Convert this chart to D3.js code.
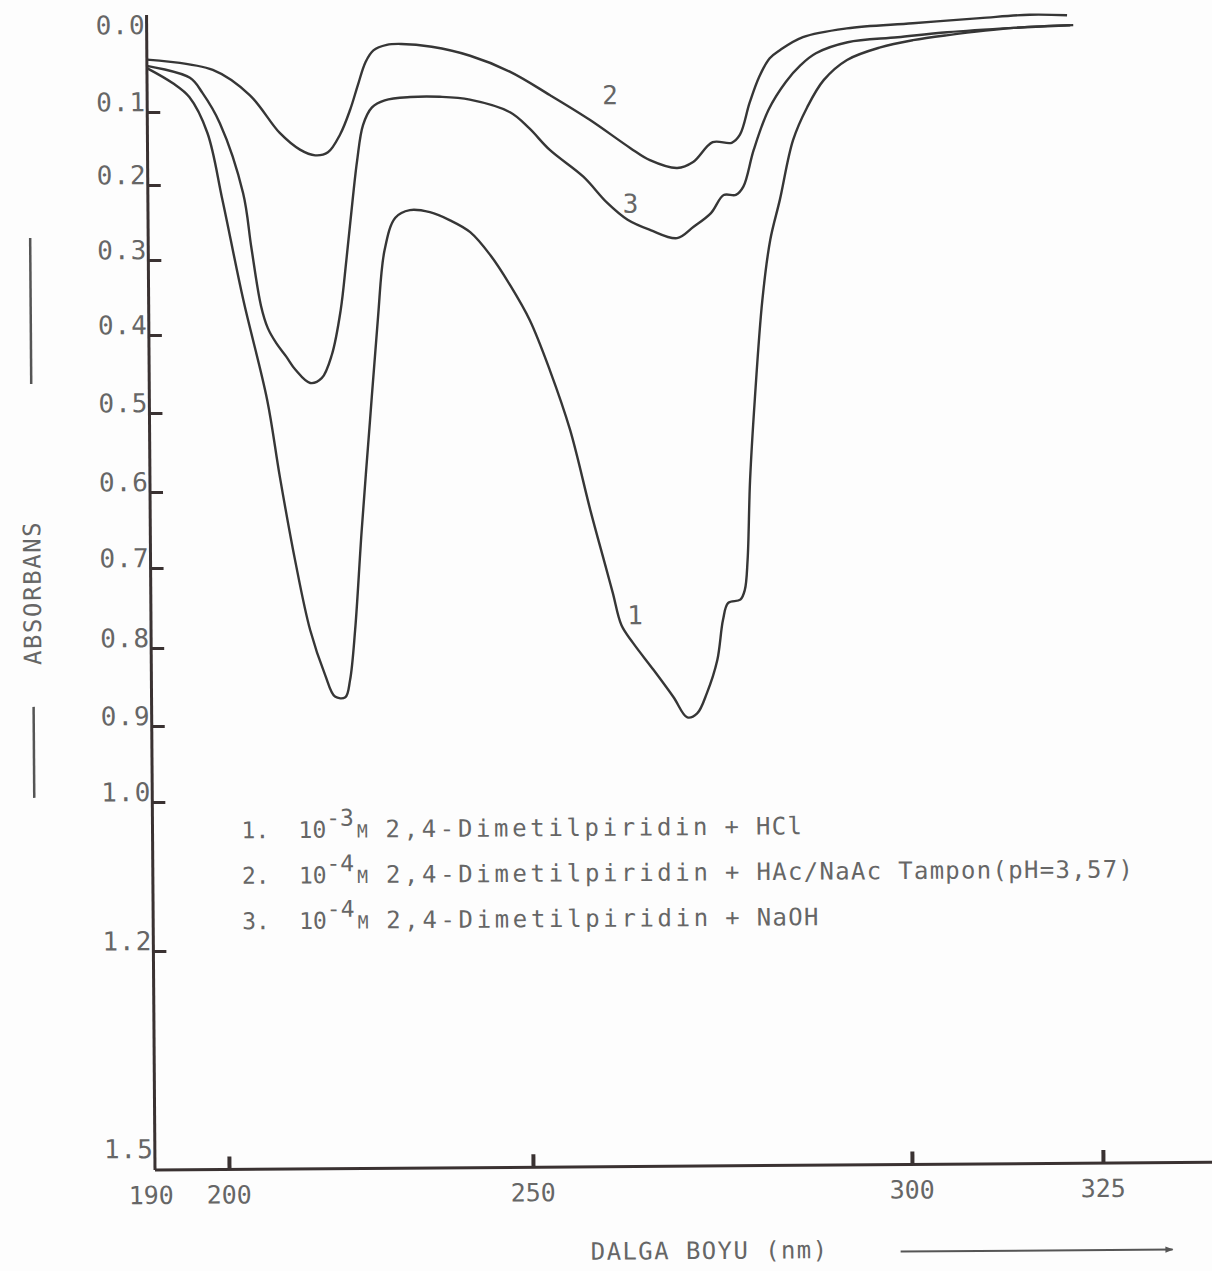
<!DOCTYPE html>
<html>
<head>
<meta charset="utf-8">
<script src="https://cdn.jsdelivr.net/npm/d3@7"></script>
<style>
body { margin: 0; background: #fff; }
text { fill: #666; font-family: "DejaVu Sans Mono", monospace; }
</style>
</head>
<body>
<svg id="chart"></svg>
<script>
// 1: 10^-3 M + HCl
var wl1 = [190, 193.5, 195.7, 198.1, 200.1, 203.4, 207.2, 209.2, 211.6, 214.0, 216.4, 218.0, 219.7, 220.5, 221.4,
  222.6, 224.1, 225.5, 226.7, 228.5, 230.9, 234.2, 237.5, 240.8, 244.1, 247.3, 250.4, 253.0, 255.6, 258.2,
  260.1, 261.1, 262.2, 263.7, 266.4, 269.0, 270.8, 272.1, 273.4, 274.8, 275.6, 276.3, 277.9, 278.5, 278.9,
  279.3, 280.0, 281.1, 282.2, 283.5, 285.3, 287.2, 289.4, 292.5, 296.9, 301.2, 305.6, 314.4, 322.2];
var ab1 = [0.043, 0.063, 0.081, 0.129, 0.221, 0.354, 0.484, 0.582, 0.691, 0.779, 0.836, 0.864, 0.865, 0.843, 0.779,
  0.652, 0.511, 0.382, 0.289, 0.246, 0.236, 0.239, 0.250, 0.266, 0.297, 0.337, 0.384, 0.449, 0.525, 0.628,
  0.700, 0.736, 0.776, 0.798, 0.833, 0.868, 0.894, 0.889, 0.863, 0.821, 0.770, 0.749, 0.745, 0.733, 0.695,
  0.591, 0.489, 0.359, 0.279, 0.226, 0.145, 0.100, 0.065, 0.039, 0.023, 0.014, 0.008, -0.001, -0.004];

// 2: 10^-4 M + HAc/NaAc
var wl2 = [190, 198.9, 204.7, 209.6, 212.9, 215.4, 217.5, 219.5, 221.2, 222.5, 223.8, 225.1, 227.3, 229.7, 234.7,
  241.0, 247.5, 253.3, 258.5, 263.8, 266.4, 270.0, 272.1, 274.7, 277.2, 278.3, 279.6, 280.9, 282.3, 283.6,
  286.7, 292.5, 301.2, 310.0, 316.5, 321.4];
var ab2 = [0.032, 0.046, 0.079, 0.130, 0.153, 0.161, 0.157, 0.133, 0.099, 0.067, 0.037, 0.022, 0.015, 0.014, 0.018,
  0.030, 0.051, 0.082, 0.115, 0.154, 0.171, 0.182, 0.174, 0.147, 0.148, 0.137, 0.094, 0.060, 0.036, 0.026,
  0.009, -0.002, -0.008, -0.014, -0.018, -0.017];

// 3: 10^-4 M + NaOH
var wl3 = [190, 195.8, 197.5, 199.8, 203.5, 204.8, 206.3, 207.4, 208.8, 210.4, 211.9, 214.3, 216.2, 217.9, 219.4, 220.4,
  221.5, 222.3, 223.3, 224.8, 226.9, 231.1, 236.0, 240.9, 247.5, 250.5, 253.2, 257.6, 260.7, 263.4, 266.4, 269.9,
  272.1, 274.4, 276.1, 277.7, 278.7, 280.1, 282.1, 284.4, 286.4, 288.4, 292.6, 299.2, 305.7, 314.4, 321.8];
var ab3 = [0.040, 0.056, 0.076, 0.116, 0.212, 0.285, 0.362, 0.392, 0.412, 0.429, 0.446, 0.463, 0.457, 0.427, 0.369, 0.302,
  0.222, 0.168, 0.120, 0.096, 0.087, 0.083, 0.083, 0.087, 0.104, 0.126, 0.156, 0.193, 0.228, 0.251, 0.265, 0.276,
  0.261, 0.243, 0.219, 0.219, 0.208, 0.158, 0.103, 0.067, 0.045, 0.030, 0.016, 0.010, 0.004, -0.001, -0.004];

var xTicks = [190, 200, 250, 300, 325];
var yTicks = [0.0, 0.1, 0.2, 0.3, 0.4, 0.5, 0.6, 0.7, 0.8, 0.9, 1.0, 1.2, 1.5];
var yTickLabels = ["0.0", "0.1", "0.2", "0.3", "0.4", "0.5", "0.6", "0.7", "0.8", "0.9", "1.0", "1.2", "1.5"];

var curveNames = ["1", "2", "3"];
var curveNameWl = [264.0, 261.2, 263.8];
var curveNameAb = [0.763, 0.082, 0.229];

var legendNo = ["1.", "2.", "3."];
var legendExp = ["-3", "-4", "-4"];
var legendCompound = "2,4-Dimetilpiridin";
var legendAdded = ["+ HCl", "+ HAc/NaAc Tampon(pH=3,57)", "+ NaOH"];

var yTitle = "ABSORBANS";
var xTitle = "DALGA BOYU (nm)";

var W = 1212, H = 1271;
var ox = 155, oy = 1170;
var ink = "#3a3232";

// the scanned axes are not evenly spaced
var x = d3.scaleLinear().domain(xTicks).range([155, 229, 533, 912, 1103]);
var y = d3.scaleLinear().domain(yTicks)
  .range([35, 112, 185, 260, 335, 413, 492, 568, 648, 726, 802, 951, 1170]);

var svg = d3.select("#chart")
  .attr("width", W)
  .attr("height", H);

svg.append("rect").attr("width", W).attr("height", H).attr("fill", "#fdfdfd");

// whole sheet sits slightly askew in the scan
var g = svg.append("g")
  .attr("transform", "rotate(-0.42," + ox + "," + oy + ")");

var series = [[wl1, ab1], [wl2, ab2], [wl3, ab3]].map(function(s) {
  return s[0].map(function(w, i) { return {wl: w, ab: s[1][i]}; });
});

var line = d3.line()
  .x(function(d) { return x(d.wl); })
  .y(function(d) { return y(d.ab); })
  .curve(d3.curveCatmullRom.alpha(0.5));

g.selectAll(".spectrum")
  .data(series)
  .enter()
  .append("path")
  .attr("class", "spectrum")
  .attr("d", line)
  .attr("fill", "none")
  .attr("stroke", "#363636")
  .attr("stroke-width", 2.4)
  .attr("stroke-linejoin", "round");

// axes
g.append("line")
  .attr("x1", ox).attr("y1", y(0) - 20)
  .attr("x2", ox).attr("y2", oy)
  .attr("stroke", ink).attr("stroke-width", 3);

g.append("line")
  .attr("x1", ox).attr("y1", oy)
  .attr("x2", W + 10).attr("y2", oy)
  .attr("stroke", ink).attr("stroke-width", 3);

var yAxis = g.append("g")
  .attr("transform", "translate(" + ox + ",0)")
  .call(d3.axisRight(y).tickValues(yTicks.slice(1, -1)).tickSize(13).tickFormat(""));
yAxis.select(".domain").remove();
yAxis.selectAll("line").attr("stroke", ink).attr("stroke-width", 3);

var xAxis = g.append("g")
  .attr("transform", "translate(0," + oy + ")")
  .call(d3.axisTop(x).tickValues(xTicks.slice(1)).tickSize(13).tickFormat(""));
xAxis.select(".domain").remove();
xAxis.selectAll("line").attr("stroke", ink).attr("stroke-width", 4);

g.selectAll(".ylab")
  .data(yTicks)
  .enter()
  .append("text")
  .attr("class", "ylab")
  .attr("x", ox - 1)
  .attr("y", function(d) { return Math.min(y(d) - 1, y(1.5) - 12); })
  .attr("text-anchor", "end")
  .attr("font-size", 26)
  .attr("letter-spacing", 1)
  .text(function(d, i) { return yTickLabels[i]; });

g.selectAll(".xlab")
  .data(xTicks)
  .enter()
  .append("text")
  .attr("class", "xlab")
  .attr("x", function(d) { return x(d) - (d === 190 ? 4 : 0); })
  .attr("y", oy + 34)
  .attr("text-anchor", "middle")
  .attr("font-size", 25)
  .text(function(d) { return d; });

// curve numbers
g.selectAll(".cname")
  .data(curveNames)
  .enter()
  .append("text")
  .attr("class", "cname")
  .attr("x", function(d, i) { return x(curveNameWl[i]); })
  .attr("y", function(d, i) { return y(curveNameAb[i]); })
  .attr("dy", "0.36em")
  .attr("text-anchor", "middle")
  .attr("font-size", 26)
  .text(function(d) { return d; });

// legend
var leg = g.selectAll(".leg")
  .data(legendNo)
  .enter()
  .append("g")
  .attr("class", "leg")
  .attr("transform", function(d, i) { return "translate(0," + (839 + i * 45.5) + ")"; });

leg.append("text")
  .attr("x", 244)
  .attr("font-size", 23)
  .text(function(d) { return d; });

var conc = leg.append("text")
  .attr("x", 301)
  .attr("font-size", 23);
conc.append("tspan").text("10");
conc.append("tspan")
  .attr("dy", -12)
  .text(function(d, i) { return legendExp[i]; });
conc.append("tspan")
  .attr("dx", 3)
  .attr("dy", 12)
  .attr("font-size", 18)
  .text("M");

leg.append("text")
  .attr("x", 388)
  .attr("font-size", 24)
  .attr("textLength", 322)
  .attr("lengthAdjust", "spacing")
  .text(legendCompound);

leg.append("text")
  .attr("x", 727)
  .attr("font-size", 24)
  .attr("letter-spacing", 1.3)
  .text(function(d, i) { return legendAdded[i]; });

// axis titles
g.append("text")
  .attr("transform", "translate(45,592) rotate(-90)")
  .attr("text-anchor", "middle")
  .attr("font-size", 24)
  .attr("letter-spacing", 1.6)
  .text(yTitle);

g.selectAll(".ybar")
  .data([[237, 383], [706, 797]])
  .enter()
  .append("line")
  .attr("class", "ybar")
  .attr("x1", 37).attr("x2", 37)
  .attr("y1", function(d) { return d[0]; })
  .attr("y2", function(d) { return d[1]; })
  .attr("stroke", "#555")
  .attr("stroke-width", 2.5);

g.append("text")
  .attr("x", 709)
  .attr("y", 1263)
  .attr("text-anchor", "middle")
  .attr("font-size", 24)
  .attr("letter-spacing", 1.4)
  .text(xTitle);

svg.append("defs").append("marker")
  .attr("id", "arrow")
  .attr("viewBox", "0 0 10 10")
  .attr("refX", 9).attr("refY", 5)
  .attr("markerWidth", 6).attr("markerHeight", 4)
  .attr("orient", "auto")
  .append("path")
  .attr("d", "M0,1 L10,5 L0,9 Z")
  .attr("fill", "#555");

g.append("line")
  .attr("x1", 900).attr("y1", 1257)
  .attr("x2", 1172).attr("y2", 1257)
  .attr("stroke", "#555")
  .attr("stroke-width", 2)
  .attr("marker-end", "url(#arrow)");
</script>
</body>
</html>
